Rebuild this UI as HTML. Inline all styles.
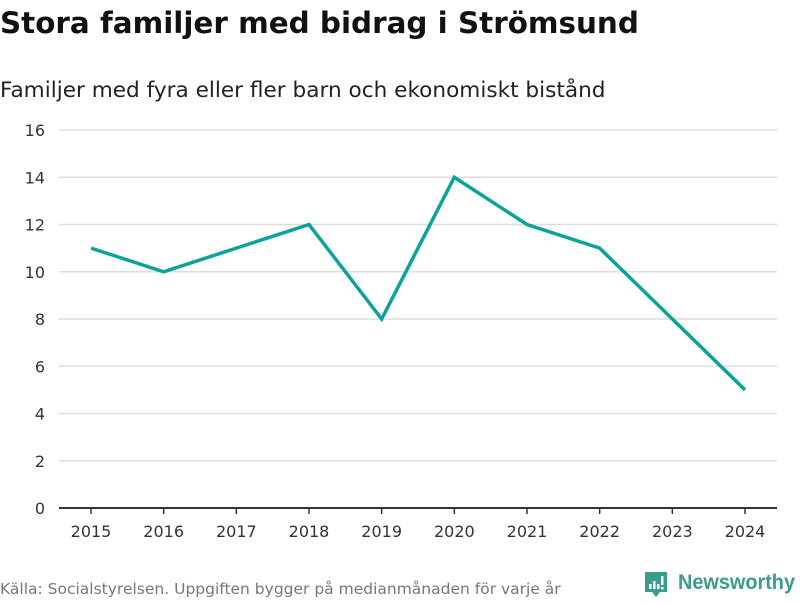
<!DOCTYPE html>
<html><head><meta charset="utf-8"><style>
body{margin:0;width:800px;height:600px;background:#fff;font-family:"DejaVu Sans","Liberation Sans",sans-serif;overflow:hidden}
</style></head><body>
<svg width="800" height="600" xmlns="http://www.w3.org/2000/svg">
<text x="0" y="33" font-size="29.4" font-weight="bold" fill="#111">Stora familjer med bidrag i Strömsund</text>
<text x="0" y="97" font-size="21.6" fill="#222">Familjer med fyra eller fler barn och ekonomiskt bistånd</text>
<g id="grid"></g>
<g id="yt"></g>
<g id="xt"></g>
<path id="line" fill="none" stroke="#0aa39a" stroke-width="3.5" stroke-linejoin="miter"/>
<text x="0" y="594" font-size="15.5" fill="#777">Källa: Socialstyrelsen. Uppgiften bygger på medianmånaden för varje år</text>
<g>
<path d="M645 572h22v20h-7l-4 5-4-5h-7z" fill="#3a9c8c"/>
<rect x="649" y="584" width="2.5" height="5" fill="#fff"/><rect x="653" y="581" width="2.5" height="8" fill="#fff"/><rect x="657" y="584" width="2.5" height="5" fill="#fff"/><rect x="661" y="576" width="2.5" height="9" fill="#fff"/><rect x="661" y="587" width="2.5" height="2.5" fill="#fff"/>
<text x="678" y="589" font-size="21" font-weight="bold" fill="#3a9c8c" font-family="Liberation Sans, sans-serif" textLength="117" lengthAdjust="spacingAndGlyphs">Newsworthy</text>
</g>
</svg>
<script>
const years=[2015,2016,2017,2018,2019,2020,2021,2022,2023,2024];
const values=[11,10,11,12,8,14,12,11,8,5];
const yTicks=[0,2,4,6,8,10,12,14,16];
const NS="http://www.w3.org/2000/svg";
const y=v=>508-v*23.625;
const x=i=>91+i*(654/9);
const grid=document.getElementById('grid'),yt=document.getElementById('yt'),xt=document.getElementById('xt');
function mk(tag,attrs,parent){const e=document.createElementNS(NS,tag);for(const k in attrs)e.setAttribute(k,attrs[k]);parent.appendChild(e);return e;}
yTicks.forEach(t=>{
  const l=mk('line',{x1:59,x2:777,y1:y(t),y2:y(t),stroke:t===0?'#333':'#ddd','stroke-width':t===0?2:1.5},grid);
  
  
  const tx=mk('text',{x:45,y:y(t)+6,'font-size':16,fill:'#333','text-anchor':'end'},yt);
  tx.textContent=t;
  
  
});
years.forEach((yr,i)=>{
  const tk=mk('line',{x1:x(i),x2:x(i),y1:508,y2:514,stroke:'#333','stroke-width':1.5},xt);
  
  
  const tx=mk('text',{x:x(i),y:537,'font-size':16,fill:'#333','text-anchor':'middle'},xt);
  tx.textContent=yr;
  
  
});
document.getElementById('line').setAttribute('d',values.map((v,i)=>(i?'L':'M')+x(i)+' '+y(v)).join(''));
</script>
</body></html>
